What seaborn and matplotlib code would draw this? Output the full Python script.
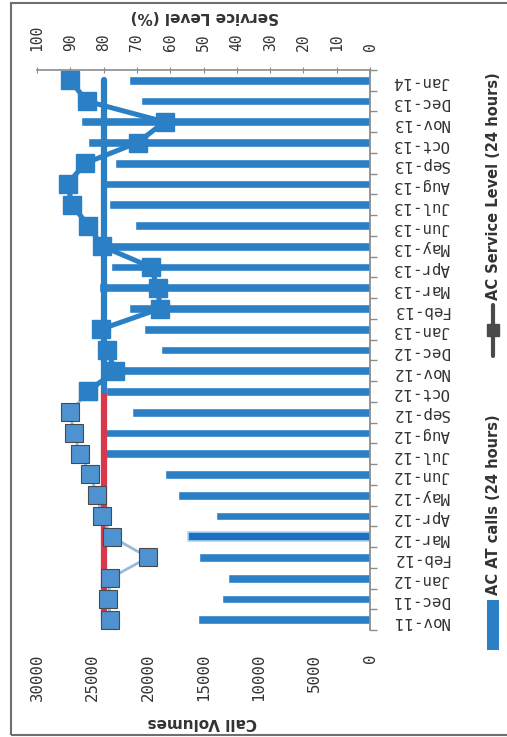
import numpy as np
import pandas as pd
import matplotlib
matplotlib.use("Agg")
import matplotlib.pyplot as plt
from matplotlib.patches import Rectangle
from matplotlib.lines import Line2D
import seaborn as sns

# ---- data -------------------------------------------------------------
months = ["Nov-11", "Dec-11", "Jan-12", "Feb-12", "Mar-12", "Apr-12", "May-12",
          "Jun-12", "Jul-12", "Aug-12", "Sep-12", "Oct-12", "Nov-12", "Dec-12",
          "Jan-13", "Feb-13", "Mar-13", "Apr-13", "May-13", "Jun-13", "Jul-13",
          "Aug-13", "Sep-13", "Oct-13", "Nov-13", "Dec-13", "Jan-14"]
call_volumes = [15500, 13300, 12800, 15400, 16400, 13900, 17300, 18500, 23900,
                23900, 21400, 23800, 24200, 18800, 20400, 21700, 24400, 23300,
                24500, 21200, 23500, 24200, 23000, 25400, 26000, 20600, 21700]
service_level = [78.0, 78.6, 78.0, 66.6, 77.6, 80.6, 82.0, 84.0, 87.0, 89.0,
                 90.0, 84.7, 76.5, 79.0, 80.8, 63.0, 63.8, 65.8, 80.4, 84.6,
                 89.5, 90.8, 85.6, 69.8, 61.7, 85.1, 90.0]
target_level = [80] * len(months)
volume_ticks = [0, 5000, 10000, 15000, 20000, 25000, 30000]
service_ticks = [0, 10, 20, 30, 40, 50, 60, 70, 80, 90, 100]
split = months.index("Oct-12")

BLUE = "#2a7fc5"
RED = "#d8384c"
GREY = "#8c8c8c"

W, H = 507, 737
def fx(px):
    return px / W
def fy(py):
    return 1 - py / H

sns.set_style("white")
plt.rcParams["font.family"] = ["DejaVu Sans"]

fig = plt.figure(figsize=(W / 100, H / 100), dpi=100)
ax = fig.add_axes([fx(37), fy(630), fx(370) - fx(37), fy(70) - fy(630)])

# ---- bars (call volumes), drawn sideways -------------------------------
df = pd.DataFrame({"month": months, "calls": call_volumes})
order = months[::-1]
sns.barplot(data=df, x="calls", y="month", order=order, orient="h",
            color=BLUE, saturation=1, width=0.42, ax=ax)
ypos = [order.index(m) for m in months]
for bar, m in zip(ax.patches, order):
    if m == "Mar-12":
        bar.set_facecolor("#1b70c2")
        bar.set_edgecolor("#a9d6f0")
        bar.set_linewidth(1.2)

ax.set_xlim(30000, 0)
ax.set_ylim(26.5, -0.5)
ax.set_xlabel("")
ax.set_ylabel("")
ax.set_xticks(volume_ticks)
ax.set_xticklabels([str(v) for v in volume_ticks], rotation=90,
                   family="DejaVu Sans Mono", fontsize=11.3, color="#333333")
ax.tick_params(axis="x", bottom=True, top=False, length=0, pad=17)
ax.yaxis.tick_right()
ax.set_yticks(range(len(order)))
ax.set_yticklabels(order, rotation=180, family="DejaVu Sans Mono",
                   fontsize=11.3, color="#333333")
ax.tick_params(axis="y", which="major", length=0, pad=16)
ax.set_yticks(np.arange(-0.5, len(order)), minor=True)
ax.tick_params(axis="y", which="minor", right=True, left=False, length=5,
               width=1, color=GREY)
for side in ("left", "top", "bottom"):
    ax.spines[side].set_visible(False)
ax.spines["right"].set_color(GREY)
ax.spines["right"].set_linewidth(1.3)

# ---- service level on the secondary scale -----------------------------
ax2 = ax.twiny()
ax2.set_xlim(100, 0)
ax2.set_xticks(service_ticks)
ax2.set_xticklabels([str(v) for v in service_ticks], rotation=90,
                    family="DejaVu Sans Mono", fontsize=10.5, color="#333333")
ax2.tick_params(axis="x", top=True, bottom=False, length=4,
                direction="inout", color=GREY, pad=12)
for side in ("left", "right", "bottom"):
    ax2.spines[side].set_visible(False)
ax2.spines["top"].set_color(GREY)
ax2.spines["top"].set_linewidth(1.2)

# 80% target
ax2.plot(target_level[:split + 1], ypos[:split + 1], color=RED, lw=4.5,
         solid_capstyle="butt", zorder=2)
ax2.plot(target_level[split:], ypos[split:], color=BLUE, lw=4.5,
         solid_capstyle="round", zorder=2)

# monthly service level
ax2.plot(service_level[:split + 1], ypos[:split + 1], color="#9bbad6", lw=2,
         marker="s", ms=12.5, mfc="#4e93d0", mec="#4a4a4a", mew=0.8, zorder=3)
ax2.plot(service_level[split:], ypos[split:], color=BLUE, lw=3.6,
         marker="s", ms=13.5, mfc=BLUE, mec=BLUE, zorder=4)

# ---- titles ------------------------------------------------------------
fig.text(fx(205), fy(17), "Service Level (%)", rotation=180, ha="center",
         va="center", fontsize=11, fontweight="bold", color="#333333")
fig.text(fx(202), fy(722), "Call Volumes", rotation=180, ha="center",
         va="center", fontsize=11, fontweight="bold", color="#333333")

# ---- legend ------------------------------------------------------------
fig.add_artist(Rectangle((fx(487), fy(650)), fx(499) - fx(487),
                         fy(600) - fy(650), transform=fig.transFigure,
                         facecolor=BLUE, edgecolor="none"))
fig.text(fx(493), fy(595), "AC AT calls (24 hours)", rotation=90,
         ha="center", va="bottom", fontsize=10.5, fontweight="bold",
         color="#333333")
fig.add_artist(Line2D([fx(493), fx(493)], [fy(356), fy(305)],
                      transform=fig.transFigure, color="#4a4a4a", lw=3,
                      marker=None))
fig.add_artist(Line2D([fx(493)], [fy(330)], transform=fig.transFigure,
                      color="#4a4a4a", marker="s", ms=8, lw=0))
fig.text(fx(493), fy(300), "AC Service Level (24 hours)", rotation=90,
         ha="center", va="bottom", fontsize=10.5, fontweight="bold",
         color="#333333")

# outer frame
fig.add_artist(Rectangle((fx(11), fy(735)), fx(540) - fx(11),
                         fy(3) - fy(735), transform=fig.transFigure,
                         facecolor="none", edgecolor="#6e6e6e", lw=1.5))

fig.savefig("out.png", dpi=100)
